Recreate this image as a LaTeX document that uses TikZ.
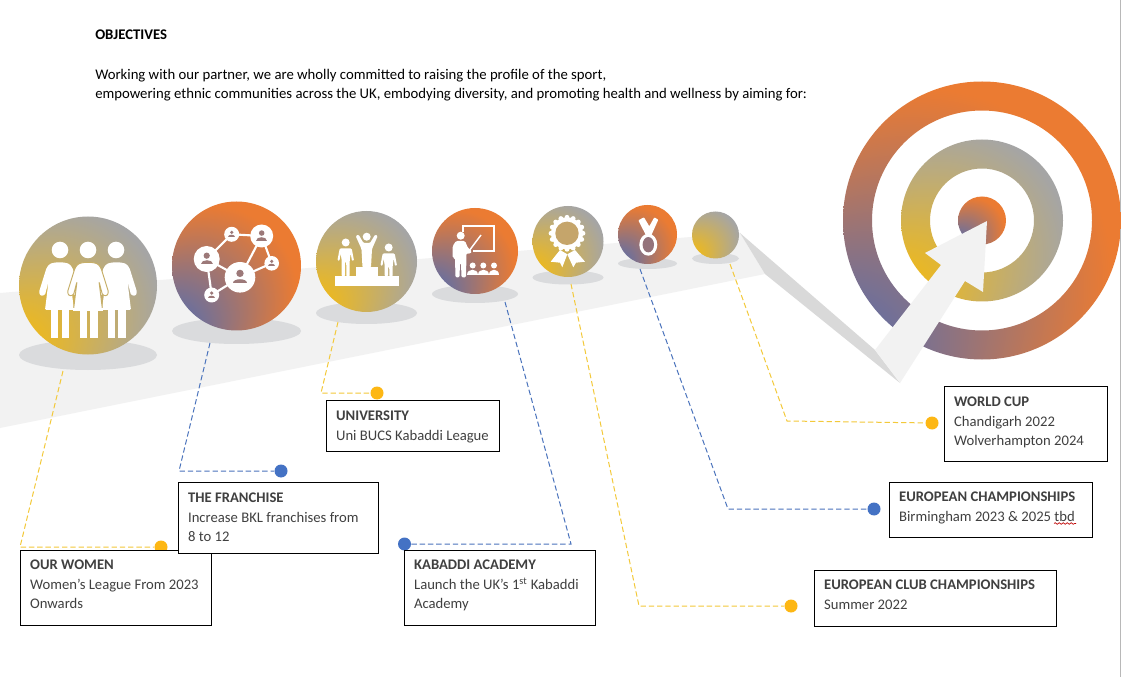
\documentclass[tikz,border=0pt]{standalone}
\usepackage{fontspec}
\setmainfont{Carlito}
\usetikzlibrary{shapes.geometric,decorations.pathmorphing}
\definecolor{cOrange}{HTML}{EB7B32}
\definecolor{cBlue}{HTML}{5A6EAB}
\definecolor{cGold}{HTML}{EEB91C}
\definecolor{cGray}{HTML}{A5A5A5}
\definecolor{cRoad}{HTML}{F2F2F2}
\definecolor{cFold}{HTML}{D9D9D9}
\definecolor{cShadow}{HTML}{DADBDD}
\definecolor{cDotY}{HTML}{FDB714}
\definecolor{cDotB}{HTML}{4472C4}
\definecolor{cLineY}{HTML}{F3C93A}
\definecolor{cLineB}{HTML}{4A73BC}
\definecolor{cText}{HTML}{404040}
\pgfdeclareradialshading{goldgray}{\pgfpoint{-33bp}{-28bp}}{color(0bp)=(cGold); color(8bp)=(cGold); color(36bp)=(cGray); color(50bp)=(cGray)}
\pgfdeclareradialshading{blueorange}{\pgfpoint{-33bp}{-32bp}}{color(0bp)=(cBlue); color(7bp)=(cBlue); color(34bp)=(cOrange); color(50bp)=(cOrange)}
\tikzset{
  orb/.style={circle,inner sep=0pt,shade,shading=#1},
  shadow/.style={ellipse,inner sep=0pt,fill=cShadow},
  conY/.style={draw=cLineY,line width=.75pt,dash pattern=on 4pt off 2.2pt},
  conB/.style={draw=cLineB,line width=.75pt,dash pattern=on 4pt off 2.2pt},
  dot/.style={circle,inner sep=0pt,minimum size=9.75pt,fill=#1},
  tbox/.style={draw=black,line width=.75pt,fill=white,inner sep=0pt,anchor=north west,text=cText},
  toptext/.style={inner sep=0pt,text=black,font=\fontsize{11.05}{14.4}\selectfont},
  wline/.style={draw=white,line width=1.6pt},
}
\newcommand\boxtxt[4][14.6]{\parbox[c][\dimexpr#3pt*3/4\relax][t]{\dimexpr#2pt*3/4\relax}{\fontsize{11}{14.6}\selectfont\parindent=0pt\leftskip=7.2pt\rightskip=0pt plus 1fil\rule{0pt}{#1pt}#4\par}}
\newcommand\dressshape[1]{(#1-5,262.5)--(#1+5,262.5)--(#1+10,264)--(#1+13,268)--(#1+20.5,292)--(#1+19,296)--(#1+14.5,295)--(#1+11,281.5)--(#1+14.5,310)--(#1-14.5,310)--(#1-11,281.5)--(#1-14.5,295)--(#1-19,296)--(#1-20.5,292)--(#1-13,268)--(#1-10,264)--cycle}
\newcommand\figlegs[1]{%
  \fill[white] (#1-8.5,309.5) rectangle (#1-1.3,338);
  \fill[white] (#1+2.3,309.5) rectangle (#1+9.5,338);
}
\newcommand\persn[4]{% x y scale colour
  \fill[#4] (#1,#2-.32*#3) circle (.3*#3);
  \fill[#4] (#1-.58*#3,#2+.5*#3) .. controls (#1-.58*#3,#2+.02*#3) and (#1+.58*#3,#2+.02*#3) .. (#1+.58*#3,#2+.5*#3) -- cycle;
}
\newcommand\podiumfig[3]{% x, head y, feet y
  \fill[white] (#1,#2) circle (4);
  \fill[white,rounded corners=.8pt] (#1-6,#2+6)--(#1+6,#2+6)--(#1+8.3,#2+18)--(#1+6.3,#2+18.5)--(#1+5,#2+11)--(#1+4,#2+18)--(#1+4,#3)--(#1+.7,#3)--(#1+.5,#2+19)--(#1-.5,#2+19)--(#1-.7,#3)--(#1-4,#3)--(#1-4,#2+18)--(#1-5,#2+11)--(#1-6.3,#2+18.5)--(#1-8.3,#2+18)--cycle;
}
\begin{document}
\begin{tikzpicture}[x=.75pt,y=-.75pt]
\useasboundingbox (0,0) rectangle (1121,677);
\fill[white] (0,0) rectangle (1121,677);
\draw[draw=cFold!85!black,line width=.75pt] (1120.5,0)--(1120.5,677);
% road and fold
\fill[cRoad] (0,293)--(740,233)--(765,274)--(0,428)--cycle;
\fill[cFold] (740,233)--(875,350)--(900,383)--(765,274)--cycle;
% text
\node[toptext,anchor=base west,font=\fontsize{11.05}{14.4}\bfseries\selectfont] (objectives) at (95,40) {OBJECTIVES};
\node[toptext,anchor=base west] (intro) at (95,79.5) {Working with our partner, we are wholly committed to raising the profile of the sport,};
\node[toptext,anchor=base west] (intro2) at (95,98.5) {empowering ethnic communities across the UK, embodying diversity, and promoting health and wellness by aiming for:};
% shadows
\node[shadow,minimum width=103.5pt,minimum height=22.5pt] (s1) at (88,355) {};
\node[shadow,minimum width=96.75pt,minimum height=19.5pt] (s2) at (236.5,331) {};
\node[shadow,minimum width=75.75pt,minimum height=16.5pt] (s3) at (366.5,313) {};
\node[shadow,minimum width=64.5pt,minimum height=13.5pt] (s4) at (475,294) {};
\node[shadow,minimum width=53.25pt,minimum height=10.5pt] (s5) at (568,277.5) {};
\node[shadow,minimum width=44.25pt,minimum height=8.25pt] (s6) at (647.5,263.5) {};
\node[shadow,minimum width=35.25pt,minimum height=8.25pt] (s7) at (715.5,258.5) {};
% orbs
\node[orb=goldgray,minimum size=103.5pt] (o1) at (88,285.5) {};
\node[orb=blueorange,minimum size=96.75pt] (o2) at (236.5,266) {};
\node[orb=goldgray,minimum size=75.75pt] (o3) at (366.5,261.5) {};
\node[orb=blueorange,minimum size=64.5pt] (o4) at (475,251) {};
\node[orb=goldgray,minimum size=53.25pt] (o5) at (568,241.5) {};
\node[orb=blueorange,minimum size=44.25pt] (o6) at (647.5,234.5) {};
\node[orb=goldgray,minimum size=35.25pt] (o7) at (715.5,235) {};
% target
\path[shade,shading=blueorange,even odd rule] (982,220.5) circle (139) (982,220.5) circle (110);
\path[shade,shading=goldgray,even odd rule] (982,220.5) circle (81) (982,220.5) circle (52);
\path[shade,shading=blueorange] (982,220.5) circle (24);
\fill[cRoad] (987,221)--(925,253)--(941,265)--(875,350)--(900,383)--(965,281)--(983,292)--cycle;
% women icon
\foreach \x in {60,88,116}{\fill[white] (\x,250) circle (8.3);}
\figlegs{59.5}
\figlegs{116}
\fill[white,rounded corners=1pt] \dressshape{59.5};
\fill[white,rounded corners=1pt] \dressshape{116.5};
\draw[draw=cGold!45!cGray,fill=white,line width=.7pt,rounded corners=1pt] \dressshape{88};
\figlegs{88}
\fill[white] (73,308) rectangle (103,311);
% network icon
\draw[wline] (231.7,234.3)--(261.7,236)--(240,277.3)--(206.7,259)--cycle;
\draw[wline] (261.7,236)--(271.7,263.3)--(240,277.3)--(211.7,295)--(206.7,259);
\foreach \x/\y/\r in {231.7/234.3/7.5,261.7/236/11.5,206.7/259/13,240/277.3/15.3,271.7/263.3/7.3,211.7/295/7.5}{
  \fill[white] (\x,\y) circle (\r);
  \persn{\x}{\y}{\r*.8}{cOrange!45!cBlue!90!cGray}
}
% podium icon
\fill[white] (335,276) rectangle (399,285.7);
\fill[white] (356,266.7) rectangle (377.5,276.5);
\fill[white] (366.7,236.7) circle (4);
\fill[white,rounded corners=.8pt] (355.7,236)--(358.5,234.5)--(363.5,243)--(370,243)--(375.2,234.5)--(377.7,236)--(372,249)--(371,267.5)--(362.5,267.5)--(361.5,249)--cycle;
\podiumfig{345.7}{242.5}{276.5}
\podiumfig{388.7}{247.5}{276.5}
% teacher icon
\draw[white,line width=1.5pt] (463.3,232)--(463.3,226)--(494,226)--(494,251)--(473,251);
\draw[white,line width=1.1pt] (481,235)--(469,251);
\fill[white] (460.7,235.7) circle (4);
\fill[white,rounded corners=1pt] (456,241)--(465,241)--(468,248)--(472,251)--(470,254)--(466.5,253)--(466,277.5)--(461.5,277.5)--(461,263)--(460,263)--(459.5,277.5)--(455.5,277.5)--(455,258)--(452.7,258)--(452.7,246)--cycle;
\foreach \x in {472.7,483.3,494}{\fill[white] (\x,265.5) circle (3); \fill[white] (\x-5.3,275.5) .. controls (\x-5.3,268.5) and (\x+5.3,268.5) .. (\x+5.3,275.5)--cycle;}
% rosette icon
\fill[white] (560,250)--(550.7,261.7)--(560,262.7)--(562.3,267.3)--(567.3,254.3)--cycle;
\fill[white] (575,250)--(585,261.7)--(576,262.7)--(573.3,267.3)--(567.3,254.3)--cycle;
\fill[white] (567,233.3) circle (16);
\foreach \a in {0,22.5,...,337.5}{\fill[white] (567,233.3)++(\a:16) circle (2.4);}
\fill[cGold!35!cGray!85!cOrange] (567,233.3) circle (11.7);
% medal icon
\fill[white,rounded corners=.6pt] (638.3,220.3)--(644,217.3)--(649.3,226.3)--(654.3,217.3)--(658.3,219.7)--(651,236)--(646.3,236)--cycle;
\fill[white] (648.3,244.7) ellipse (9 and 11);
\fill[cOrange!40!cBlue] (648.3,244.7) ellipse (5.7 and 7.7);
% connectors
\coordinate (w0) at (63,371); \coordinate (w1) at (20,547);
\coordinate (f0) at (210,343); \coordinate (f1) at (179,471);
\coordinate (u0) at (338,322); \coordinate (u1) at (321,393);
\coordinate (k0) at (505,302); \coordinate (k1) at (571,544);
\coordinate (c0) at (571,284); \coordinate (c1) at (639,606);
\coordinate (e0) at (640,269); \coordinate (e1) at (728,509);
\coordinate (g0) at (730,264); \coordinate (g1) at (787,421);
\node[dot=cDotY] (dw) at (161,547) {};
\node[dot=cDotB] (df) at (281,471) {};
\node[dot=cDotY] (du) at (377,393) {};
\node[dot=cDotB] (dk) at (404.5,544) {};
\node[dot=cDotY] (dc) at (791,606) {};
\node[dot=cDotB] (de) at (874,509) {};
\node[dot=cDotY] (dg) at (932,423) {};
\draw[conY] (w0)--(w1)--(dw);
\draw[conB] (f0)--(f1)--(df);
\draw[conY] (u0)--(u1)--(du);
\draw[conB] (k0)--(k1)--(dk);
\draw[conY] (c0)--(c1)--(dc);
\draw[conB] (e0)--(e1)--(de);
\draw[conY] (g0)--(g1)--(dg);
% boxes
\node[tbox] (bw) at (20,550) {\boxtxt{191}{75}{\textbf{OUR WOMEN}\\Women’s League From 2023 Onwards}};
\node[tbox] (bf) at (178,482) {\boxtxt[15.3]{199.5}{71}{\textbf{THE FRANCHISE}\\Increase BKL franchises from\\8 to 12}};
\node[tbox] (bu) at (326,400) {\boxtxt[15.3]{173}{51}{\textbf{UNIVERSITY}\\Uni BUCS Kabaddi League}};
\node[tbox] (bk) at (404,550) {\boxtxt{191}{75}{\textbf{KABADDI ACADEMY}\\Launch the UK’s 1\textsuperscript{st} Kabaddi Academy}};
\node[tbox] (bc) at (814,570) {\boxtxt{241.5}{55.5}{\textbf{EUROPEAN CLUB CHAMPIONSHIPS}\\Summer 2022}};
\node[tbox] (be) at (889,482) {\boxtxt{203}{55}{\textbf{EUROPEAN CHAMPIONSHIPS}\\Birmingham 2023 \& 2025 tbd}};
\node[tbox] (bg) at (944,386) {\boxtxt[15.3]{162.5}{75}{\textbf{WORLD CUP}\\Chandigarh 2022\\Wolverhampton 2024}};
\draw[red!75!black,line width=.5pt,decorate,decoration={snake,amplitude=.6pt,segment length=3pt}] (1054,523.5)--(1076,523.5);
\end{tikzpicture}
\end{document}
